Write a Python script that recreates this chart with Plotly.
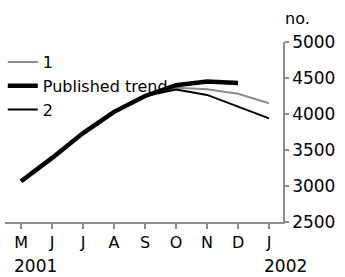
import plotly.graph_objects as go

months = ["M", "J", "J", "A", "S", "O", "N", "D", "J"]
years = ["2001", "2002"]
series_1 = [3065, 3390, 3735, 4030, 4250, 4365, 4345, 4280, 4150]
published_trend = [3065, 3390, 3735, 4030, 4250, 4400, 4450, 4430]
series_2 = [3065, 3390, 3735, 4030, 4250, 4340, 4265, 4105, 3940]

x_all = list(range(len(months)))
FONT = "DejaVu Sans"
GREY = "#8c8c8c"

fig = go.Figure()
fig.add_trace(go.Scatter(x=x_all[:len(series_1)], y=series_1, mode="lines", name="1",
                         line=dict(color=GREY, width=2), legendrank=1))
fig.add_trace(go.Scatter(x=x_all[:len(series_2)], y=series_2, mode="lines", name="2",
                         line=dict(color="black", width=2), legendrank=3))
fig.add_trace(go.Scatter(x=x_all[:len(published_trend)], y=published_trend, mode="lines",
                         name="Published trend", line=dict(color="black", width=4.5), legendrank=2))

fig.update_layout(
    width=345, height=277,
    margin=dict(l=5, r=62, t=42, b=55, autoexpand=False),
    paper_bgcolor="white", plot_bgcolor="white",
    font=dict(family=FONT, size=16, color="black"),
    showlegend=True,
    legend=dict(x=-0.008, y=0.983, xanchor="left", yanchor="top", bgcolor="rgba(0,0,0,0)",
                font=dict(family=FONT, size=16), itemwidth=30, tracegroupgap=0),
    xaxis=dict(range=[-0.52, 8.45], tickvals=x_all, ticktext=months, showgrid=False,
               zeroline=False, showline=True, linecolor=GREY, linewidth=1.5,
               ticks="outside", ticklen=5, tickcolor=GREY, tickwidth=1.5, automargin=False),
    yaxis=dict(range=[2500, 5000], dtick=500, side="right", showgrid=False, zeroline=False,
               showline=True, linecolor=GREY, linewidth=1.5, ticks="outside", ticklen=4,
               tickcolor=GREY, tickwidth=1.5, automargin=False, tickfont=dict(size=17)),
    annotations=[
        dict(text="no.", xref="paper", yref="paper", x=1.0, y=1.0, xanchor="left",
             yanchor="bottom", yshift=12, showarrow=False, font=dict(family=FONT, size=16)),
        dict(text=years[0], xref="paper", yref="paper", x=0.025, y=0, xanchor="left",
             yanchor="top", yshift=-32, showarrow=False, font=dict(family=FONT, size=17)),
        dict(text=years[1], xref="paper", yref="paper", x=1.095, y=0, xanchor="right",
             yanchor="top", yshift=-32, showarrow=False, font=dict(family=FONT, size=17)),
    ],
)
fig.write_html("out.html", post_script="document.body.style.margin='0';",
               config={"displayModeBar": False})
